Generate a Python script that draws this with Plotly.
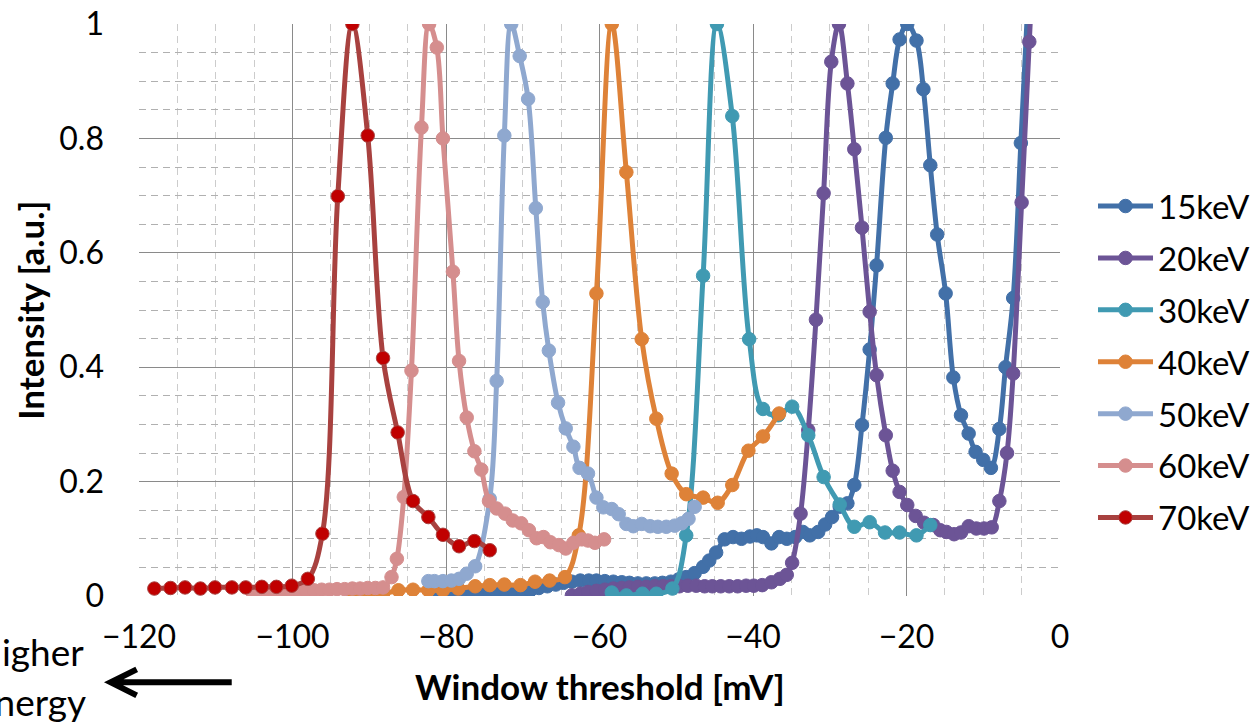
import plotly.graph_objects as go

# Pulse-height scan: intensity vs. window threshold for several photon energies
x15 = [-80.8, -79.7, -78.6, -77.6, -76.5, -75.4, -74.3, -73.3, -72.2, -71.1,
       -70.0, -69.0, -67.9, -66.8, -65.7, -64.7, -63.6, -62.5, -61.4, -60.4,
       -59.3, -58.2, -57.1, -56.1, -55.0, -53.9, -52.8, -51.8, -50.7, -49.7,
       -48.7, -47.6, -46.5, -45.7, -44.8, -43.7, -42.6, -41.5, -40.4, -39.5,
       -38.7, -37.6, -36.6, -35.6, -34.5, -33.5, -32.6, -31.5, -30.6, -29.7,
       -28.7, -27.7, -26.8, -25.8, -24.8, -23.9, -22.7, -21.8, -20.9, -19.9,
       -18.7, -17.8, -16.9, -16.0, -14.9, -13.9, -12.9, -11.9, -11.0, -10.0,
       -9.0, -7.9, -7.1, -6.1, -5.1, -4.1]
y15 = [0.004, 0.003, 0.003, 0.003, 0.003, 0.003, 0.004, 0.004, 0.005, 0.006,
       0.008, 0.010, 0.014, 0.017, 0.020, 0.023, 0.025, 0.027, 0.027, 0.027,
       0.026, 0.025, 0.024, 0.023, 0.022, 0.022, 0.022, 0.023, 0.025, 0.029,
       0.033, 0.040, 0.051, 0.062, 0.076, 0.099, 0.103, 0.100, 0.104, 0.106,
       0.103, 0.092, 0.103, 0.100, 0.103, 0.112, 0.106, 0.112, 0.125, 0.138,
       0.156, 0.162, 0.194, 0.299, 0.431, 0.578, 0.801, 0.896, 0.973, 1.000,
       0.971, 0.886, 0.753, 0.632, 0.529, 0.382, 0.316, 0.284, 0.252, 0.238,
       0.224, 0.292, 0.400, 0.521, 0.792, 1.060]

x20 = [-63.6, -62.5, -61.5, -60.4, -59.3, -58.2, -57.1, -56.1, -55.0, -53.9,
       -52.8, -51.7, -50.7, -49.6, -48.5, -47.4, -46.3, -45.3, -44.2, -43.1,
       -42.0, -40.9, -39.9, -38.8, -37.6, -36.5, -35.6, -34.9, -33.8, -32.8,
       -31.8, -30.8, -29.8, -28.8, -27.7, -26.8, -25.8, -24.8, -23.9, -22.7,
       -21.8, -20.9, -19.9, -18.8, -17.7, -16.5, -15.6, -14.8, -13.8, -12.9,
       -11.9, -10.9, -9.9, -8.9, -7.9, -6.9, -6.1, -5.0, -4.0, -3.0]
y20 = [0.001, 0.004, 0.007, 0.009, 0.011, 0.013, 0.014, 0.015, 0.016, 0.016,
       0.017, 0.017, 0.017, 0.017, 0.018, 0.018, 0.017, 0.017, 0.017, 0.017,
       0.017, 0.018, 0.018, 0.019, 0.024, 0.030, 0.037, 0.058, 0.144, 0.290,
       0.483, 0.704, 0.934, 1.000, 0.896, 0.781, 0.644, 0.497, 0.386, 0.281,
       0.219, 0.182, 0.159, 0.140, 0.128, 0.124, 0.115, 0.112, 0.108, 0.111,
       0.122, 0.118, 0.118, 0.120, 0.166, 0.250, 0.389, 0.688, 0.969, 1.250]

x30 = [-58.4, -56.5, -54.4, -52.6, -50.5, -48.7, -46.5, -44.7, -42.7, -40.5,
       -38.7, -36.7, -34.9, -32.8, -30.8, -28.7, -26.8, -24.8, -22.8, -20.9,
       -18.7, -16.9]
y30 = [0.006, 0.001, 0.004, 0.004, 0.013, 0.106, 0.560, 1.000, 0.839, 0.449,
       0.327, 0.316, 0.331, 0.281, 0.208, 0.160, 0.121, 0.129, 0.111, 0.111,
       0.106, 0.124]

x40 = [-92.1, -90.2, -88.2, -86.2, -84.3, -82.3, -80.4, -78.4, -76.2, -74.3,
       -72.4, -70.3, -68.4, -66.5, -64.5, -62.7, -60.4, -58.4, -56.5, -54.5,
       -52.6, -50.6, -48.7, -46.5, -44.6, -42.7, -40.6, -38.7, -36.6]
y40 = [0.003, 0.003, 0.004, 0.010, 0.011, 0.010, 0.010, 0.013, 0.017, 0.019,
       0.020, 0.019, 0.025, 0.027, 0.033, 0.106, 0.529, 1.000, 0.741, 0.449,
       0.310, 0.214, 0.178, 0.172, 0.163, 0.194, 0.254, 0.279, 0.319]

x50 = [-82.3, -81.5, -80.4, -79.3, -78.3, -77.3, -76.2, -74.3, -73.4, -72.4,
       -71.5, -70.4, -69.3, -68.3, -67.4, -66.6, -65.4, -64.4, -63.4, -62.6,
       -61.5, -60.4, -59.5, -58.4, -57.5, -56.5, -55.6, -54.5, -53.4, -52.4,
       -51.3, -50.2, -49.3, -48.4, -47.6]
y50 = [0.026, 0.026, 0.026, 0.027, 0.030, 0.039, 0.052, 0.170, 0.376, 0.805,
       1.000, 0.944, 0.869, 0.678, 0.514, 0.429, 0.338, 0.293, 0.261, 0.224,
       0.214, 0.172, 0.155, 0.152, 0.143, 0.126, 0.122, 0.126, 0.122, 0.121,
       0.121, 0.123, 0.127, 0.135, 0.156]

x60 = [-105.2, -104.2, -103.2, -102.2, -101.2, -100.2, -99.2, -98.2, -97.2, -96.2,
       -95.2, -94.2, -93.2, -92.2, -91.2, -90.2, -89.2, -88.2, -87.1, -86.4,
       -85.5, -84.5, -83.2, -82.2, -81.2, -80.4, -79.1, -78.3, -77.3, -76.3,
       -75.4, -74.4, -73.4, -72.3, -71.3, -70.2, -69.2, -68.2, -67.3, -66.4,
       -65.3, -64.4, -63.4, -62.3, -61.5, -60.6, -59.4]
y60 = [0.006, 0.007, 0.007, 0.008, 0.008, 0.009, 0.009, 0.010, 0.010, 0.011,
       0.011, 0.012, 0.012, 0.013, 0.013, 0.014, 0.014, 0.015, 0.033, 0.065,
       0.173, 0.394, 0.819, 1.000, 0.959, 0.800, 0.567, 0.411, 0.312, 0.253,
       0.221, 0.166, 0.153, 0.144, 0.132, 0.127, 0.115, 0.101, 0.103, 0.094,
       0.089, 0.083, 0.093, 0.099, 0.097, 0.093, 0.099]

x70 = [-118.0, -115.9, -114.0, -112.0, -110.1, -107.9, -106.1, -104.0, -102.1, -100.1,
       -98.0, -96.1, -94.1, -92.2, -90.2, -88.2, -86.3, -84.3, -82.3, -80.4,
       -78.3, -76.3, -74.3]
y70 = [0.013, 0.014, 0.015, 0.013, 0.015, 0.015, 0.015, 0.016, 0.016, 0.018,
       0.030, 0.109, 0.699, 1.000, 0.805, 0.416, 0.286, 0.166, 0.138, 0.107,
       0.087, 0.096, 0.080]

series = [
    ("15keV", x15, y15, "#4270A8", "#4270A8"),
    ("20keV", x20, y20, "#6C5496", "#6C5496"),
    ("30keV", x30, y30, "#409AB2", "#409AB2"),
    ("40keV", x40, y40, "#DE8238", "#DE8238"),
    ("50keV", x50, y50, "#8FA8CF", "#8FA8CF"),
    ("60keV", x60, y60, "#D58E8E", "#D58E8E"),
    ("70keV", x70, y70, "#A8413F", "#C00000"),
]

FONT = "Lato"

fig = go.Figure()
for name, xs, ys, line_col, mark_col in series:
    fig.add_trace(go.Scatter(
        x=xs, y=ys, name=name, mode="lines+markers",
        line=dict(color=line_col, width=5, shape="spline", smoothing=1.0),
        marker=dict(size=13.5, color=mark_col, line=dict(color=line_col, width=1)),
        legendgroup=name,
    ))

# plot-area geometry in pixels, used to place the free-standing labels
L, R, T, B = 139.3, 1060.0, 24.0, 595.7


def px(xp):
    return (xp - L) / (R - L)


def py(yp):
    return (B - yp) / (B - T)


fig.update_layout(
    width=1252, height=722,
    margin=dict(l=139, r=192, t=24, b=126, autoexpand=False),
    paper_bgcolor="white", plot_bgcolor="white",
    font=dict(family=FONT, size=32, color="black"),
    showlegend=True,
    legend=dict(
        x=px(1093), y=py(178), xanchor="left", yanchor="top",
        font=dict(family=FONT, size=33, color="black"),
        bgcolor="rgba(0,0,0,0)", itemwidth=55, tracegroupgap=6,
    ),
    xaxis=dict(
        range=[-120, 0], dtick=20, tick0=0, showgrid=True,
        gridcolor="#8A8A8A", gridwidth=1.3, zeroline=False, showline=False,
        ticks="", ticklabelstandoff=19,
        tickfont=dict(family=FONT, size=32, color="black"),
        minor=dict(dtick=5, showgrid=True, gridcolor="#CCCCCC",
                   gridwidth=1.3, griddash="7px,5px"),
    ),
    yaxis=dict(
        range=[0, 1], dtick=0.2, tick0=0, showgrid=True,
        gridcolor="#8A8A8A", gridwidth=1.3, zeroline=False, showline=False,
        ticks="", ticklabelstandoff=34,
        tickfont=dict(family=FONT, size=32, color="black"),
        minor=dict(dtick=0.05, showgrid=True, gridcolor="#B0B0B0",
                   gridwidth=1.3, griddash="7px,5px"),
    ),
)

annotations = [
    dict(text="<b>Intensity [a.u.]</b>", x=px(30), y=py(310), textangle=-90,
         font=dict(family=FONT, size=35, color="black")),
    dict(text="<b>Window threshold [mV]</b>", x=px(599.7), y=py(686),
         font=dict(family=FONT, size=35, color="black")),
    dict(text="Higher", x=px(86), y=py(651), xanchor="right",
         font=dict(family=FONT, size=37, color="black")),
    dict(text="energy", x=px(88), y=py(701), xanchor="right",
         font=dict(family=FONT, size=37, color="black")),
]
for a in annotations:
    a.update(xref="paper", yref="paper", showarrow=False)
    a.setdefault("xanchor", "center")
    a.setdefault("yanchor", "middle")
fig.update_layout(annotations=annotations)

# arrow pointing toward higher energy (more negative threshold)
arrow = dict(type="path", xref="paper", yref="paper",
             line=dict(color="black", width=6),
             path=(f"M{px(232)},{py(682)} L{px(113)},{py(682)} "
                   f"M{px(137)},{py(669)} L{px(111)},{py(682)} L{px(137)},{py(695)}"))
fig.add_shape(arrow)

fig.write_html("out.html")
